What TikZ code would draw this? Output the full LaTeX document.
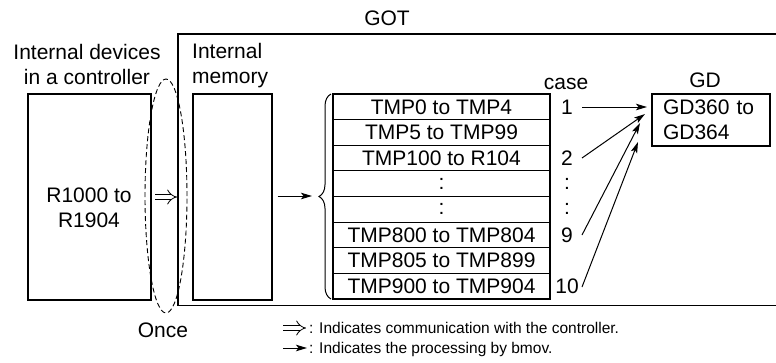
\documentclass[tikz,border=0pt]{standalone}
\usepackage{fontspec}
\setmainfont{Liberation Sans}
\usetikzlibrary{arrows.meta,decorations.pathreplacing,shapes.geometric}
\begin{document}
\begin{tikzpicture}[x=1pt,y=-1pt,
  font=\fontsize{21}{25}\selectfont,
  every node/.style={inner sep=0pt},
  box/.style={draw, line width=1.1pt},
  rowbox/.style={box, minimum width=217pt, minimum height=25.625pt},
  proc/.style={line width=1pt, -{Stealth[length=11pt,width=6.5pt,inset=2.5pt]}},
  comarrow/.style={line width=0.8pt, double, double distance=4.5pt, -{Implies}},
  legend/.style={font=\fontsize{15.5}{18}\selectfont, anchor=base west}
]
\useasboundingbox (0,0) rectangle (776,362);

% GOT frame (open to the right)
\node[anchor=base] (got) at (387,25) {GOT};
\coordinate (gotTR) at (790,34);
\coordinate (gotTL) at (178,34);
\coordinate (gotBL) at (178,305.5);
\coordinate (gotBR) at (790,305.5);
\draw[line width=1.3pt] (gotTR) -- (gotTL) -- (gotBL) -- (gotBR);

% controller
\node[align=center] (ctrllbl) at (87,64) {Internal devices\\in a controller};
\node[box, minimum width=123pt, minimum height=206pt] (ctrl) at (89.5,197) {};
\node[align=center] (ctrltxt) at (89,208) {R1000 to\\R1904};

% once ellipse
\node[ellipse, draw, dashed, dash pattern=on 5pt off 3pt, line width=0.9pt,
      minimum width=42pt, minimum height=234pt] (onceell) at (166,196) {};
\coordinate (ca) at (155,197);
\coordinate (cb) at (177,197);
\draw[comarrow] (ca) -- (cb);
\node[anchor=base] (once) at (163,337) {Once};

% internal memory
\node[align=left, anchor=west] (memlbl) at (192,66) {Internal\\memory};
\node[box, minimum width=79pt, minimum height=206pt] (mem) at (232.5,197) {};

% processing arrow and brace
\coordinate (bracetip) at (312,196);
\draw[proc] ([xshift=5pt]mem.east |- bracetip) -- (bracetip);
\coordinate (braceB) at (331,299);
\coordinate (braceT) at (331,94);
\draw[line width=1pt, decorate, decoration={brace, amplitude=12pt}] (braceB) -- (braceT);

% table
\node[rowbox] (r1) at (441.5,106.8) {TMP0 to TMP4};
\node[rowbox] (r2) at (441.5,132.4) {TMP5 to TMP99};
\node[rowbox] (r3) at (441.5,158.1) {TMP100 to R104};
\node[rowbox] (r4) at (441.5,183.7) {:};
\node[rowbox] (r5) at (441.5,209.3) {:};
\node[rowbox] (r6) at (441.5,235.0) {TMP800 to TMP804};
\node[rowbox] (r7) at (441.5,260.6) {TMP805 to TMP899};
\node[rowbox] (r8) at (441.5,286.2) {TMP900 to TMP904};

% case column
\node[anchor=base] (case) at (566,89) {case};
\node (c1) at (567,106.8) {1};
\node (c2) at (567,158.1) {2};
\node (cd1) at (567,183.7) {:};
\node (cd2) at (567,209.3) {:};
\node (c9) at (567,235.0) {9};
\node (c10) at (567,286.2) {10};

% GD
\node[anchor=base] (gdlbl) at (705,87) {GD};
\node[box, minimum width=118pt, minimum height=52pt, text width=96pt, align=left] (gd) at (711,120) {GD360 to\\GD364};

\coordinate (g1) at (647,107);
\coordinate (g2) at (645,114);
\coordinate (g9) at (640,123);
\coordinate (g10) at (638,142);
\coordinate (s1) at (582,107);
\coordinate (s2) at (582,158);
\coordinate (s9) at (582,235);
\coordinate (s10) at (582,287);
\draw[proc] (s1) -- (g1);
\draw[proc] (s2) -- (g2);
\draw[proc] (s9) -- (g9);
\draw[proc] (s10) -- (g10);

% legend
\coordinate (lca) at (283,328);
\coordinate (lcb) at (306,328);
\draw[comarrow] (lca) -- (lcb);
\node[legend] (leg1) at (309,333) {: Indicates communication with the controller.};
\coordinate (lsa) at (283,348);
\coordinate (lsb) at (307,348);
\draw[proc] (lsa) -- (lsb);
\node[legend] (leg2) at (309,353) {: Indicates the processing by bmov.};
\end{tikzpicture}
\end{document}
